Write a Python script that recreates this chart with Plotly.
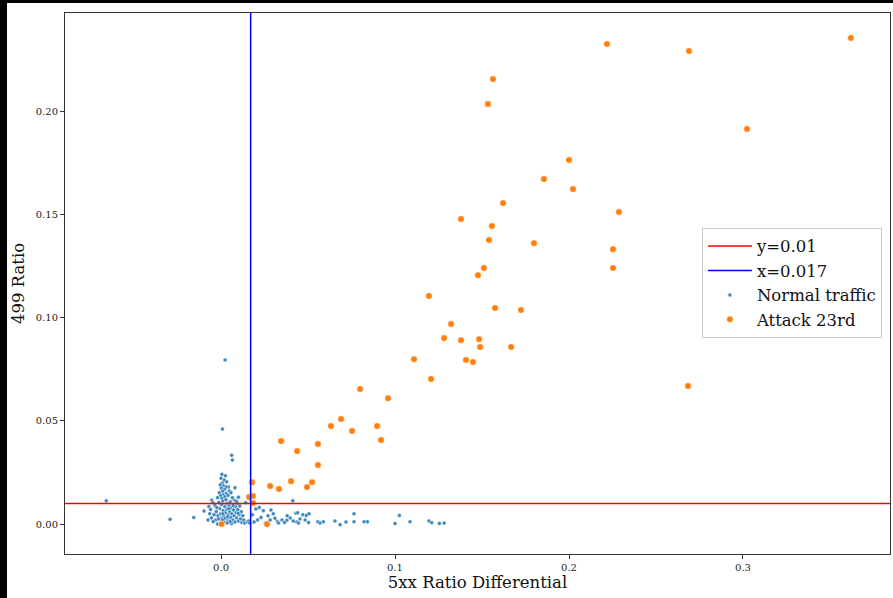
import plotly.graph_objects as go

# ---- Data ----
normal_x = [
    -0.066, -0.0293, -0.0157, -0.0098, 0.0023, 0.0008, 0.0061, 0.0065, 0.0412,
    0.0005, 0.0025, 0.0000, 0.0018, 0.0032, 0.0007, -0.0005, 0.0015, 0.0042, 0.0029,
    0.0001, 0.0020, 0.0048, 0.0057, 0.0009, -0.0010, 0.0030, 0.0012, -0.0003, 0.0022,
    0.0040, 0.0080, 0.0065, -0.0020, 0.0005, 0.0100,
    -0.0053, -0.0047, -0.0070, -0.0060, -0.0035, -0.0028, -0.0040, -0.0055, -0.0030,
    -0.0045, -0.0018, -0.0012, -0.0008, -0.0002, 0.0003, 0.0005, 0.0010, 0.0012, 0.0015,
    0.0018, 0.0022, 0.0025, 0.0028, 0.0030, 0.0034, 0.0037, 0.0040, 0.0043, 0.0046,
    0.0050, 0.0053, 0.0055, 0.0058, 0.0062, 0.0065, 0.0068, 0.0072, 0.0075, 0.0078,
    0.0080, 0.0083, 0.0086, 0.0090, 0.0093, 0.0096, 0.0100, 0.0104, 0.0108, 0.0112,
    0.0116, 0.0120, 0.0125, 0.0130, 0.0135, 0.0142, 0.0150, 0.0160, 0.0165, -0.0020,
    0.0000, 0.0035, 0.0060, -0.0065, -0.0075, 0.0020, 0.0045, 0.0070, 0.0010, -0.0015,
    0.0088, 0.0007, 0.0052, -0.0025, 0.0098, 0.0038,
    0.0200, 0.0243, 0.0287, 0.0230, 0.0282, 0.0324, 0.0350, 0.0378, 0.0397, 0.0435,
    0.0454, 0.0483, 0.0503, 0.0430, 0.0470, 0.0190, 0.0210, 0.0255, 0.0270, 0.0310,
    0.0330, 0.0365, 0.0415, 0.0445, 0.0490, 0.0380, 0.0180, 0.0220, 0.0300, 0.0506,
    0.0440, 0.0556, 0.0569, 0.0588, 0.0655, 0.0684, 0.0718, 0.0764, 0.0764, 0.0822,
    0.0841, 0.1000, 0.1025, 0.1086, 0.1195, 0.1211, 0.1255, 0.1282,
]
normal_y = [
    0.0113, 0.0023, 0.0032, 0.0063, 0.0795, 0.0460, 0.0333, 0.0310, 0.0113,
    0.0241, 0.0234, 0.0222, 0.0213, 0.0205, 0.0199, 0.0190, 0.0186, 0.0180, 0.0180,
    0.0175, 0.0168, 0.0160, 0.0152, 0.0160, 0.0152, 0.0148, 0.0142, 0.0137, 0.0132,
    0.0138, 0.0176, 0.0128, 0.0128, 0.0125, 0.0130,
    0.0116, 0.0103, 0.0085, 0.0070, 0.0090, 0.0060, 0.0045, 0.0030, 0.0020,
    0.0012, 0.0040, 0.0105, 0.0075, 0.0050, 0.0095, 0.0030, 0.0112, 0.0065, 0.0040,
    0.0010, 0.0085, 0.0055, 0.0118, 0.0025, 0.0072, 0.0100, 0.0045, 0.0015, 0.0088,
    0.0060, 0.0108, 0.0032, 0.0078, 0.0050, 0.0095, 0.0020, 0.0068, 0.0040, 0.0115,
    0.0010, 0.0085, 0.0055, 0.0030, 0.0100, 0.0070, 0.0015, 0.0045, 0.0088, 0.0025,
    0.0060, 0.0008, 0.0040, 0.0020, 0.0005, 0.0103, 0.0010, 0.0015, 0.0005, 0.0000,
    0.0008, 0.0005, 0.0003, 0.0050, 0.0020, 0.0028, 0.0075, 0.0090, 0.0050, 0.0025,
    0.0110, 0.0020, 0.0012, 0.0080, 0.0052, 0.0035,
    0.0073, 0.0065, 0.0068, 0.0032, 0.0020, 0.0012, 0.0020, 0.0018, 0.0030, 0.0010,
    0.0025, 0.0020, 0.0008, 0.0052, 0.0045, 0.0010, 0.0020, 0.0005, 0.0040, 0.0028,
    0.0005, 0.0008, 0.0015, 0.0005, 0.0042, 0.0040, 0.0045, 0.0080, 0.0050, 0.0050,
    0.0055, 0.0011, 0.0005, 0.0011, 0.0015, -0.0003, 0.0010, 0.0050, 0.0011, 0.0011,
    0.0011, 0.0003, 0.0042, 0.0011, 0.0015, 0.0007, 0.0003, 0.0005,
]

attack_x = [
    0.362, 0.2218, 0.269, 0.1563, 0.1534, 0.3023, 0.2, 0.1856, 0.2023, 0.1621,
    0.2287, 0.1379, 0.1557, 0.154, 0.1799, 0.2253, 0.1511, 0.2253, 0.1477, 0.1195,
    0.1575, 0.1724, 0.1322, 0.1282, 0.1379, 0.1483, 0.1489, 0.1667, 0.1109, 0.1408,
    0.1448, 0.1207, 0.2684, 0.0799, 0.096, 0.069, 0.0632, 0.0897, 0.0753, 0.0345,
    0.0557, 0.092, 0.0437, 0.0557, 0.0402, 0.0178, 0.0523, 0.0282, 0.0494, 0.0333,
    0.0161, 0.0184, 0.0184, 0.0003, 0.0264,
]
attack_y = [
    0.2355, 0.2326, 0.2292, 0.2156, 0.2035, 0.1914, 0.1764, 0.1672, 0.1623, 0.1555,
    0.1512, 0.1478, 0.1444, 0.1376, 0.1361, 0.1332, 0.1240, 0.1240, 0.1206, 0.1105,
    0.1047, 0.1037, 0.0969, 0.0901, 0.0891, 0.0896, 0.0858, 0.0858, 0.0799, 0.0795,
    0.0785, 0.0703, 0.0669, 0.0654, 0.0610, 0.0509, 0.0475, 0.0475, 0.0451, 0.0402,
    0.0388, 0.0407, 0.0354, 0.0286, 0.0208, 0.0203, 0.0203, 0.0184, 0.0179, 0.0170,
    0.0131, 0.0136, 0.0102, 0.0000, 0.0000,
]

h_line = 0.01
v_line = 0.017
x_ticks = [0.0, 0.1, 0.2, 0.3]
x_tick_text = ["0.0", "0.1", "0.2", "0.3"]
y_ticks = [0.00, 0.05, 0.10, 0.15, 0.20]
y_tick_text = ["0.00", "0.05", "0.10", "0.15", "0.20"]

FONT = "DejaVu Serif"

fig = go.Figure()
fig.add_trace(go.Scatter(x=[None], y=[None], mode="lines", name="y=0.01",
                         line=dict(color="#ff0000", width=1.5)))
fig.add_trace(go.Scatter(x=[None], y=[None], mode="lines", name="x=0.017",
                         line=dict(color="#0000ff", width=1.5)))
fig.add_trace(go.Scatter(x=normal_x, y=normal_y, mode="markers", name="Normal traffic",
                         marker=dict(color="#3a86bd", size=4,
                                     line=dict(color="white", width=0.5))))
fig.add_trace(go.Scatter(x=attack_x, y=attack_y, mode="markers", name="Attack 23rd",
                         marker=dict(color="#ff7f0e", size=6.5,
                                     line=dict(color="white", width=0.5))))

fig.add_shape(type="line", xref="x domain", yref="y", x0=0, x1=1, y0=h_line, y1=h_line,
              line=dict(color="#ff0000", width=1.5))
fig.add_shape(type="line", xref="x", yref="y domain", x0=v_line, x1=v_line, y0=0, y1=1,
              line=dict(color="#0000ff", width=1.5))

# screenshot black edges
fig.add_shape(type="rect", xref="paper", yref="paper", x0=-0.08, x1=-0.0703, y0=-0.1, y1=1.03,
              fillcolor="black", line=dict(width=0), layer="above")
fig.add_shape(type="rect", xref="paper", yref="paper", x0=-0.08, x1=1.01, y0=1.0185, y1=1.03,
              fillcolor="black", line=dict(width=0), layer="above")

axis_common = dict(showgrid=False, zeroline=False, showline=True, mirror=True,
                   linecolor="#333333", linewidth=1, ticks="outside", ticklen=4,
                   tickcolor="#333333", tickfont=dict(family=FONT, size=10, color="#222"))

fig.update_xaxes(range=[-0.0897, 0.3845], tickvals=x_ticks, ticktext=x_tick_text,
                 title=dict(text="5xx Ratio Differential",
                            font=dict(family=FONT, size=16.5, color="#111"), standoff=3),
                 **axis_common)
fig.update_yaxes(range=[-0.0145, 0.2476], tickvals=y_ticks, ticktext=y_tick_text,
                 title=dict(text="499 Ratio",
                            font=dict(family=FONT, size=16.5, color="#111"), standoff=6),
                 **axis_common)

fig.update_layout(
    width=893, height=598,
    margin=dict(l=65, r=3, t=13, b=44),
    paper_bgcolor="white", plot_bgcolor="white",
    showlegend=True,
    legend=dict(x=0.772, y=0.603, xanchor="left", yanchor="top",
                bgcolor="white", bordercolor="#cccccc", borderwidth=1,
                font=dict(family=FONT, size=16.5, color="#111"),
                itemsizing="trace", itemwidth=44, tracegroupgap=0),
)

fig.write_html("out.html")
